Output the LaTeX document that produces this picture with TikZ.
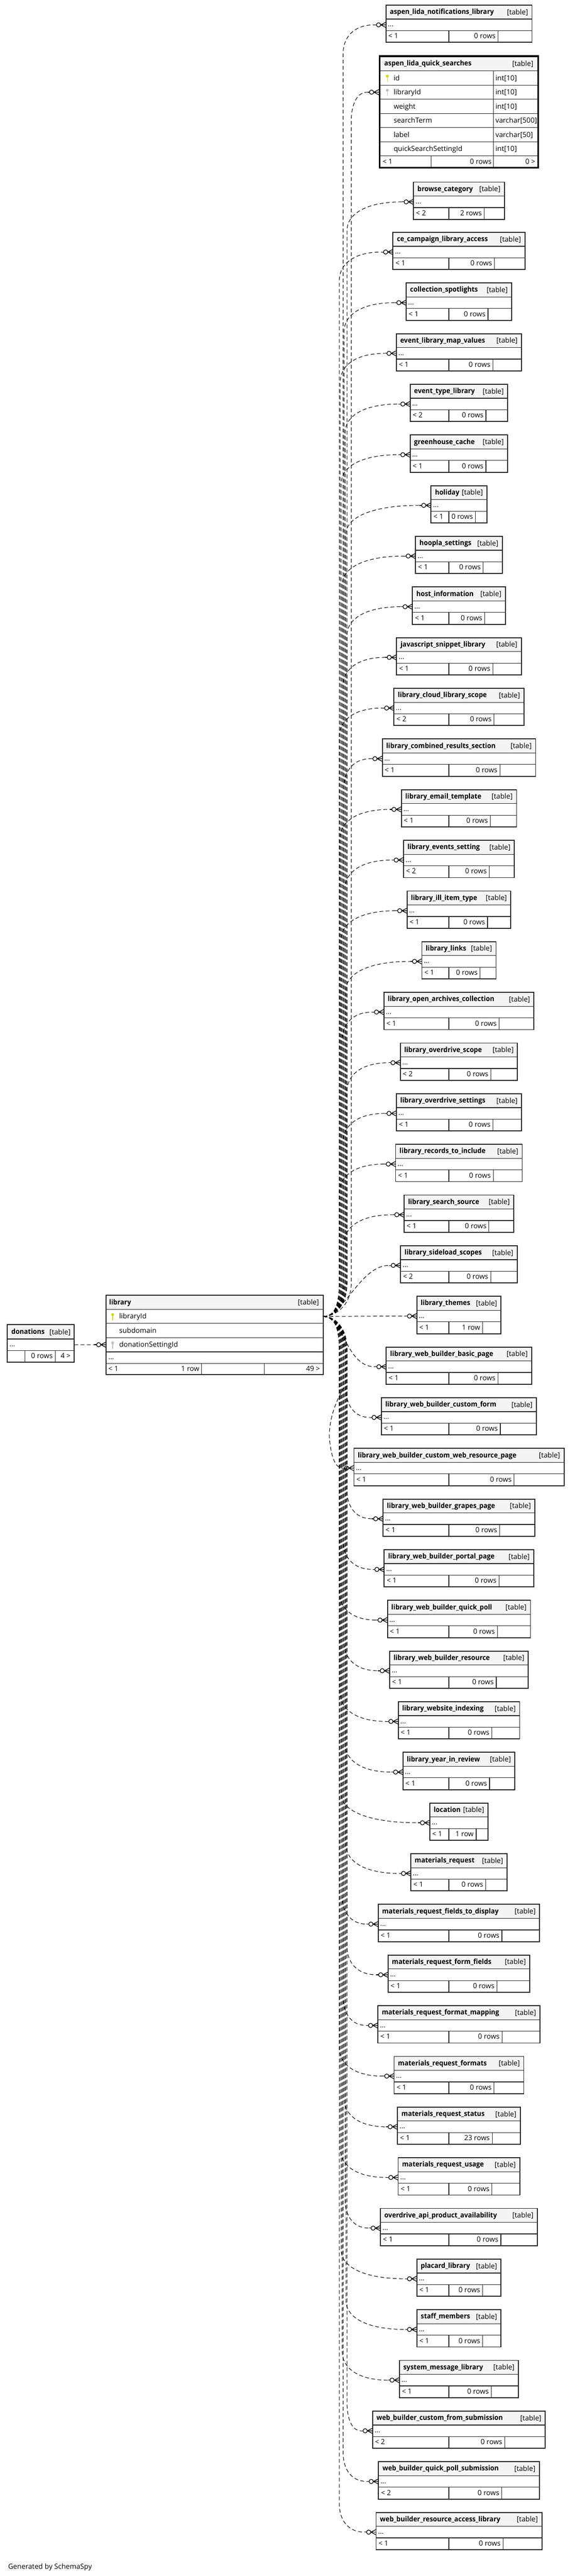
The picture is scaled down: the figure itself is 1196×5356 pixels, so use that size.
\documentclass[tikz,border=0pt]{standalone}
\usepackage{fontspec}
\setmainfont{Open Sans}
\newfontfamily\nmfont[FakeStretch=0.94]{Open Sans}
\definecolor{hdrgray}{RGB}{244,244,244}
\definecolor{lineC}{RGB}{40,40,40}
\definecolor{pkey}{RGB}{215,215,0}
\definecolor{fkey}{RGB}{190,190,190}
\newcommand\fs{\fontsize{14.67pt}{17pt}\selectfont}
\tikzset{
  hdr/.style={fill=hdrgray},
  cell/.style={draw=lineC, line width=1.3pt},
  tblbox/.style={draw=lineC, line width=2pt, inner sep=0pt, outer sep=0pt, rectangle},
  nm/.style={anchor=base west, inner sep=0pt, font=\nmfont\fs\bfseries},
  tg/.style={anchor=base east, inner sep=0pt, font=\fs},
  tx/.style={anchor=base west, inner sep=0pt, font=\fs},
  txr/.style={anchor=base east, inner sep=0pt, font=\fs},
  fkline/.style={draw=black, line width=1.1pt, dash pattern=on 8pt off 5pt},
  crowft/.style={draw=black, line width=1.3pt, solid},
}
% crow's foot + open circle at a table's left side
\newcommand\crowmark[1]{%
  \draw[crowft] (#1-e) -- (\Xl-19.7,\Ty);
  \draw[crowft, fill=white] (\Xl-15.3,\Ty) circle[radius=4.4pt];
  \draw[crowft] (\Xl-10.9,\Ty) -- (\Xl,\Ty-5.5) (\Xl-10.9,\Ty) -- (#1-p) (\Xl-10.9,\Ty) -- (\Xl,\Ty+5.5);
}
% connector from library.libraryId to table #1 ; #2 left x, #3 row y, #4 bundle x (0 = loop)
\newcommand\fkedge[4]{%
  \pgfmathsetmacro\Ty{#3}%
  \pgfmathsetmacro\Xl{#2}%
  \pgfmathsetmacro\Ex{\Xl-24}%
  \pgfmathsetmacro\Dy{\Ty-2737.2}%
  \pgfmathsetmacro\Xb{#4}%
  \coordinate (#1-e) at (\Ex,\Ty);
  \coordinate (#1-p) at (\Xl,\Ty);
  \ifdim\Xb pt=0pt
    \draw[fkline] (libsrc) .. controls (695,2737.2) and (716,2757) .. (716,2807) -- (716,2885)
      .. controls (700,2910) and (682,2955) .. (686,2995)
      .. controls (690,3035) and (700,\Ty) .. (#1-e);
  \else
  \ifdim\Dy pt<-160pt
    \draw[fkline] (libsrc) .. controls (695,2737.2) and (\Xb,2717) .. (\Xb,2667) -- (\Xb,\Ty+60)
      .. controls (\Xb,\Ty+25) and (\Xb+0.35*\Ex-0.35*\Xb,\Ty) .. (#1-e);
  \else
    \ifdim\Dy pt>160pt
      \draw[fkline] (libsrc) .. controls (695,2737.2) and (\Xb,2757) .. (\Xb,2807) -- (\Xb,\Ty-60)
        .. controls (\Xb,\Ty-25) and (\Xb+0.35*\Ex-0.35*\Xb,\Ty) .. (#1-e);
    \else
      \draw[fkline] (libsrc) .. controls (715,2737.2) and (\Ex-60,\Ty) .. (#1-e);
    \fi
  \fi
  \fi
  \crowmark{#1}%
}
% generic child table: id, name, top, width, "<" count, rows, bundle x
\newcommand\tblat[7]{%
  \pgfmathsetmacro\TbT{#3}%
  \pgfmathsetmacro\TbL{955-#4/2}%
  \pgfmathsetmacro\TbR{955+#4/2}%
  \pgfmathsetmacro\TbD{\TbR-#4/4+5.5}%
  \pgfmathsetmacro\TbB{\TbT+77.5}%
  \fill[white] (\TbL,\TbT) rectangle (\TbR,\TbB);
  \fill[hdr] (\TbL,\TbT) rectangle (\TbR,\TbT+29);
  \draw[cell] (\TbL,\TbT+29) -- (\TbR,\TbT+29) (\TbL,\TbT+53) -- (\TbR,\TbT+53)
     (934,\TbT+53) -- (934,\TbB) (\TbD,\TbT+53) -- (\TbD,\TbB);
  \node[tblbox, minimum width=#4pt, minimum height=77.5pt] (#1) at (955,\TbT+38.75) {};
  \node[nm] (#1-n) at (\TbL+8,\TbT+19) {#2};
  \node[tg] (#1-g) at (\TbR-8,\TbT+19.5) {[table]};
  \node[tx] (#1-d) at (\TbL+4,\TbT+45) {...};
  \node[tx] (#1-l) at (\TbL+5,\TbT+69.5) {< #5};
  \node[txr] (#1-r) at (\TbD-5,\TbT+69.5) {#6};
  \fkedge{#1}{\TbL}{\TbT+41}{#7}%
}
\newcommand\tbl[6]{\tblat{#1}{#2}{483+105.35*#3}{#4}{#5}{#6}{706+2*mod(5*#3,9)}}
\newcommand\keyicon[3]{%
  \fill[#3] (#1,#2-4) circle[radius=3pt];
  \fill[#3] (#1-1,#2-4) rectangle (#1+1,#2+8);
}
\begin{document}
\begin{tikzpicture}[x=1pt,y=-1pt]
\useasboundingbox (0,0) rectangle (1196,5356);
\fill[white] (0,0) rectangle (1196,5356);

% ---------------- library ----------------
\fill[white] (220.5,2693.3) rectangle (672.4,2858.3);
\fill[hdr] (220.5,2693.3) rectangle (672.4,2722.7);
\draw[cell] (220.5,2722.7) -- (672.4,2722.7) (220.5,2751.7) -- (672.4,2751.7)
  (220.5,2781) -- (672.4,2781) (220.5,2810.7) -- (672.4,2810.7) (220.5,2835) -- (672.4,2835)
  (419,2835) -- (419,2858.3) (550,2835) -- (550,2858.3);
\node[tblbox, minimum width=451.9pt, minimum height=165pt] (lib) at (446.45,2775.8) {};
\node[nm] (lib-n) at (227,2712.3) {library};
\node[tg] (lib-g) at (664,2712.8) {[table]};
\keyicon{234.3}{2737.2}{pkey}
\node[tx] (lib-c1) at (248,2742.2) {libraryId};
\node[tx] (lib-c2) at (248,2771.3) {subdomain};
\keyicon{234.3}{2795.9}{fkey}
\node[tx] (lib-c3) at (248,2800.9) {donationSettingId};
\node[tx] (lib-d) at (225.5,2826.8) {...};
\node[tx] (lib-l) at (225.5,2851.2) {< 1};
\node[txr] (lib-r) at (415,2851.2) {1 row};
\node[txr] (lib-k) at (666,2851.2) {49 >};
\path (lib.north east) ++(0,43.9) coordinate (libsrc);

% ---------------- donations ----------------
\fill[white] (15.3,2754) rectangle (154.6,2832);
\fill[hdr] (15.3,2754) rectangle (154.6,2784);
\draw[cell] (15.3,2784) -- (154.6,2784) (15.3,2808) -- (154.6,2808)
  (52,2808) -- (52,2832) (114.8,2808) -- (114.8,2832);
\node[tblbox, minimum width=139.3pt, minimum height=78pt] (don) at (84.95,2793) {};
\node[nm] (don-n) at (23.5,2774) {donations};
\node[tg] (don-g) at (147,2774.5) {[table]};
\node[tx] (don-d) at (19.5,2800) {...};
\node[txr] (don-r) at (109.8,2824.5) {0 rows};
\node[txr] (don-k) at (147,2824.5) {4 >};
\path (don.north east) ++(0,42) coordinate (donsrc);
\pgfmathsetmacro\Ty{2795.9}\pgfmathsetmacro\Xl{220.5}
\coordinate (lib-de) at (196.5,2795.9);
\coordinate (lib-dp) at (220.5,2795.9);
\draw[fkline] (donsrc) -- (lib-de);
\draw[crowft] (lib-de) -- (\Xl-19.7,\Ty);
\draw[crowft, fill=white] (\Xl-15.3,\Ty) circle[radius=4.4pt];
\draw[crowft] (\Xl-10.9,\Ty) -- (\Xl,\Ty-5.5) (\Xl-10.9,\Ty) -- (lib-dp) (\Xl-10.9,\Ty) -- (\Xl,\Ty+5.5);

% ---------------- aspen_lida_quick_searches ----------------
\fill[white] (790,116.7) rectangle (1120,349);
\fill[hdr] (790,116.7) rectangle (1120,147.7);
\draw[cell] (790,147.7) -- (1120,147.7) (790,177) -- (1120,177) (790,206.3) -- (1120,206.3)
  (790,236) -- (1120,236) (790,265.3) -- (1120,265.3) (790,294.7) -- (1120,294.7)
  (790,323.7) -- (1120,323.7) (1027,147.7) -- (1027,349) (897,323.7) -- (897,349);
\node[tblbox, draw=black, line width=3.5pt, minimum width=330pt, minimum height=232.3pt] (tQ) at (955,232.85) {};
\node[nm] (tQ-n) at (799.3,137) {aspen\_lida\_quick\_searches};
\node[tg] (tQ-g) at (1110,137.5) {[table]};
\keyicon{806}{162.35}{pkey}
\keyicon{806}{191.65}{fkey}
\node[tx] (tQ-c1) at (819,167.35) {id};
\node[tx] (tQ-c2) at (819,196.65) {libraryId};
\node[tx] (tQ-c3) at (819,226.15) {weight};
\node[tx] (tQ-c4) at (819,255.65) {searchTerm};
\node[tx] (tQ-c5) at (819,285) {label};
\node[tx] (tQ-c6) at (819,314.2) {quickSearchSettingId};
\node[tx] (tQ-t1) at (1031,167.35) {int[10]};
\node[tx] (tQ-t2) at (1031,196.65) {int[10]};
\node[tx] (tQ-t3) at (1031,226.15) {int[10]};
\node[tx] (tQ-t4) at (1031,255.65) {varchar[500]};
\node[tx] (tQ-t5) at (1031,285) {varchar[50]};
\node[tx] (tQ-t6) at (1031,314.2) {int[10]};
\node[tx] (tQ-l) at (796,340.8) {< 1};
\node[txr] (tQ-r) at (1023,340.8) {0 rows};
\node[txr] (tQ-k) at (1114,340.8) {0 >};
\fkedge{tQ}{788.5}{191.65}{731}

% ---------------- child tables ----------------
\tblat{tA}{aspen\_lida\_notifications\_library}{10.7}{304}{1}{0 rows}{714}
\tblat{tB}{browse\_category}{378.7}{189}{2}{2 rows}{722}
\tbl{t0}{ce\_campaign\_library\_access}{0}{274.5}{1}{0 rows}
\tbl{t1}{collection\_spotlights}{1}{219.5}{1}{0 rows}
\tbl{t2}{event\_library\_map\_values}{2}{260.5}{1}{0 rows}
\tbl{t3}{event\_type\_library}{3}{203}{2}{0 rows}
\tbl{t4}{greenhouse\_cache}{4}{203}{1}{0 rows}
\tbl{t5}{holiday}{5}{116}{1}{0 rows}
\tbl{t6}{hoopla\_settings}{6}{180.5}{1}{0 rows}
\tbl{t7}{host\_information}{7}{193.4}{1}{0 rows}
\tbl{t8}{javascript\_snippet\_library}{8}{259.5}{1}{0 rows}
\tbl{t9}{library\_cloud\_library\_scope}{9}{270.4}{2}{0 rows}
\tbl{t10}{library\_combined\_results\_section}{10}{319}{1}{0 rows}
\tbl{t11}{library\_email\_template}{11}{239.8}{1}{0 rows}
\tbl{t12}{library\_events\_setting}{12}{230.6}{2}{0 rows}
\tbl{t13}{library\_ill\_item\_type}{13}{216}{1}{0 rows}
\tbl{t14}{library\_links}{14}{154.3}{1}{0 rows}
\tbl{t15}{library\_open\_archives\_collection}{15}{312.5}{1}{0 rows}
\tbl{t16}{library\_overdrive\_scope}{16}{244}{2}{0 rows}
\tbl{t17}{library\_overdrive\_settings}{17}{260.5}{1}{0 rows}
\tbl{t18}{library\_records\_to\_include}{18}{263.5}{1}{0 rows}
\tbl{t19}{library\_search\_source}{19}{228}{1}{0 rows}
\tbl{t20}{library\_sideload\_scopes}{20}{242.8}{2}{0 rows}
\tbl{t21}{library\_themes}{21}{175.3}{1}{1 row}
\tbl{t22}{library\_web\_builder\_basic\_page}{22}{302.6}{1}{0 rows}
\tbl{t23}{library\_web\_builder\_custom\_form}{23}{322.7}{1}{0 rows}
\tblat{t24}{library\_web\_builder\_custom\_web\_resource\_page}{483+105.35*24}{437.2}{1}{0 rows}{0}
\tbl{t25}{library\_web\_builder\_grapes\_page}{25}{316}{1}{0 rows}
\tbl{t26}{library\_web\_builder\_portal\_page}{26}{310.9}{1}{0 rows}
\tbl{t27}{library\_web\_builder\_quick\_poll}{27}{297.7}{1}{0 rows}
\tbl{t28}{library\_web\_builder\_resource}{28}{288.5}{1}{0 rows}
\tbl{t29}{library\_website\_indexing}{29}{252.6}{1}{0 rows}
\tbl{t30}{library\_year\_in\_review}{30}{233}{1}{0 rows}
\tbl{t31}{location}{31}{121.4}{1}{1 row}
\tbl{t32}{materials\_request}{32}{200.3}{1}{0 rows}
\tbl{t33}{materials\_request\_fields\_to\_display}{33}{335.9}{1}{0 rows}
\tbl{t34}{materials\_request\_form\_fields}{34}{295}{1}{0 rows}
\tbl{t35}{materials\_request\_format\_mapping}{35}{337.2}{1}{0 rows}
\tbl{t36}{materials\_request\_formats}{36}{270}{1}{0 rows}
\tbl{t37}{materials\_request\_status}{37}{255.6}{1}{23 rows}
\tbl{t38}{materials\_request\_usage}{38}{253}{1}{0 rows}
\tbl{t39}{overdrive\_api\_product\_availability}{39}{326.6}{1}{0 rows}
\tbl{t40}{placard\_library}{40}{175.3}{1}{0 rows}
\tbl{t41}{staff\_members}{41}{175.3}{1}{0 rows}
\tbl{t42}{system\_message\_library}{42}{247.7}{1}{0 rows}
\tbl{t43}{web\_builder\_custom\_from\_submission}{43}{359.6}{2}{0 rows}
\tbl{t44}{web\_builder\_quick\_poll\_submission}{44}{334.5}{2}{0 rows}
\tbl{t45}{web\_builder\_resource\_access\_library}{45}{345}{1}{0 rows}

\node[tx] (gen) at (16.7,5342) {Generated by SchemaSpy};
\end{tikzpicture}
\end{document}
